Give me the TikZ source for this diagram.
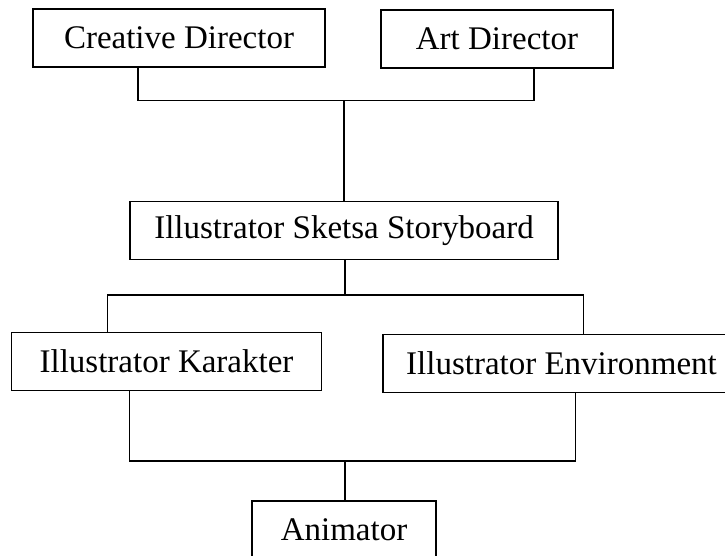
\documentclass[tikz,border=0pt]{standalone}
\usepackage{fontspec}
\setmainfont{Liberation Serif}
\usetikzlibrary{calc}

\tikzset{
	RoleStyle/.style = {draw, line width=1.6pt, inner sep=0pt,
		minimum height=58pt, font=\fontsize{33}{40}\selectfont},
	LinkStyle/.style = {line width=1.6pt}
}

\begin{document}
\begin{tikzpicture}[x=1pt,y=-1pt]
\useasboundingbox (0,0) rectangle (725,556);
\clip (0,0) rectangle (725,556);
\node[RoleStyle, minimum width=292pt] (CD) at (179,38) {Creative Director};
\node[RoleStyle, minimum width=232pt] (AD) at (497,39) {Art Director};
\node[RoleStyle, minimum width=428pt] (SB) at (344,230.5) {Illustrator Sketsa Storyboard};
\node[RoleStyle, minimum width=310pt] (IK) at (166.5,361.5) {Illustrator Karakter};
\node[RoleStyle, minimum width=357pt] (IE) at (561.5,363.5) {Illustrator Environment};
\node[RoleStyle, minimum width=184pt] (AN) at (344,530) {Animator};
\coordinate (J1) at (344,100.7);
\coordinate (J2) at (345,295);
\coordinate (J3) at (345,460.7);
\draw[LinkStyle] ([xshift=-41pt]CD.south) |- (J1) -| ([xshift=37pt]AD.south);
\draw[LinkStyle] (J1) -- (SB.north);
\draw[LinkStyle] (SB.south -| J2) -- (J2);
\draw[LinkStyle] ([xshift=-59pt]IK.north) |- (J2) -| ([xshift=22pt]IE.north);
\draw[LinkStyle] ([xshift=-37pt]IK.south) |- (J3) -| ([xshift=14pt]IE.south);
\draw[LinkStyle] (J3) -- (AN.north -| J3);
\end{tikzpicture}
\end{document}
